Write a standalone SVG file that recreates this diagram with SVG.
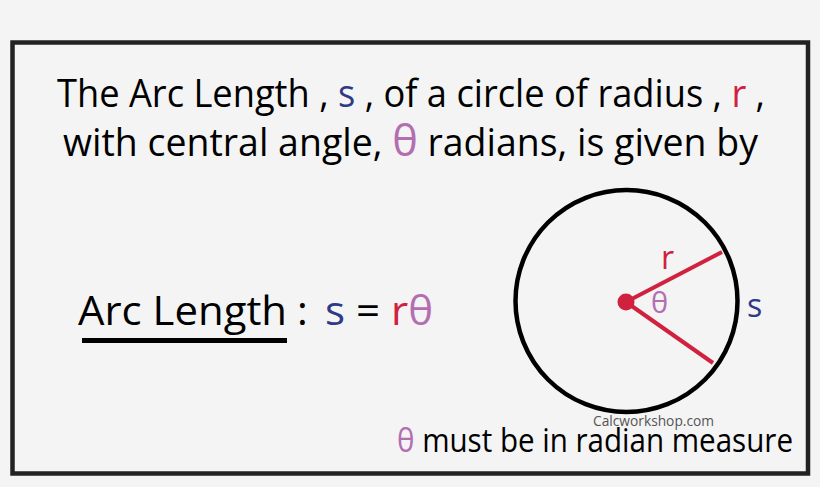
<svg xmlns="http://www.w3.org/2000/svg" width="820" height="487" viewBox="0 0 820 487">
<style>
.t{font-family:"Open Sans","Noto Sans","Liberation Sans",sans-serif;fill:#000}
.s{fill:#2f3a86}
.r{fill:#d0213f}
.th{fill:#b56db2}
</style>
<rect x="0" y="0" width="820" height="487" fill="#f4f4f4"/>
<rect id="frame" x="12.5" y="42.5" width="795.5" height="431" fill="#f4f4f4" stroke="#222" stroke-width="4.5"/>
<g id="title">
<text class="t" x="57" y="107" font-size="38" textLength="708" lengthAdjust="spacingAndGlyphs">The Arc Length , <tspan class="s">s</tspan> , of a circle of radius , <tspan class="r">r</tspan> ,</text>
<text class="t" x="63" y="156" font-size="38" textLength="695" lengthAdjust="spacingAndGlyphs">with central angle, <tspan class="th" font-size="44">θ</tspan> radians, is given by</text>
</g>
<g id="formula">
<text class="t" x="78" y="325" font-size="41" textLength="209" lengthAdjust="spacingAndGlyphs">Arc Length</text>
<rect x="82" y="338" width="205" height="5" fill="#000"/>
<text class="t" x="297" y="325" font-size="41">:</text>
<text class="t" x="325" y="325" font-size="41" textLength="108" lengthAdjust="spacingAndGlyphs"><tspan class="s">s</tspan> = <tspan class="r">r</tspan><tspan class="th">θ</tspan></text>
</g>
<g id="circle">
<circle cx="626.5" cy="301" r="111" fill="none" stroke="#000" stroke-width="4.5"/>
</g>
<g id="connectors">
<line x1="626" y1="302" x2="722" y2="252" stroke="#d0213f" stroke-width="4"/>
<line x1="626" y1="302" x2="713" y2="363" stroke="#d0213f" stroke-width="4"/>
</g>
<g id="center">
<circle cx="626" cy="302" r="8.5" fill="#d0213f"/>
</g>
<g id="labels">
<text class="t r" x="661" y="269" font-size="32">r</text>
<text class="t th" x="651" y="313" font-size="29">θ</text>
<text class="t s" x="747" y="317" font-size="32">s</text>
<text class="t" x="593" y="426" font-size="15" fill="#555" style="fill:#555" textLength="121" lengthAdjust="spacingAndGlyphs">Calcworkshop.com</text>
</g>
<g id="note">
<text class="t" x="397" y="452" font-size="33" textLength="396" lengthAdjust="spacingAndGlyphs"><tspan class="th">θ</tspan> must be in radian measure</text>
</g>
</svg>
